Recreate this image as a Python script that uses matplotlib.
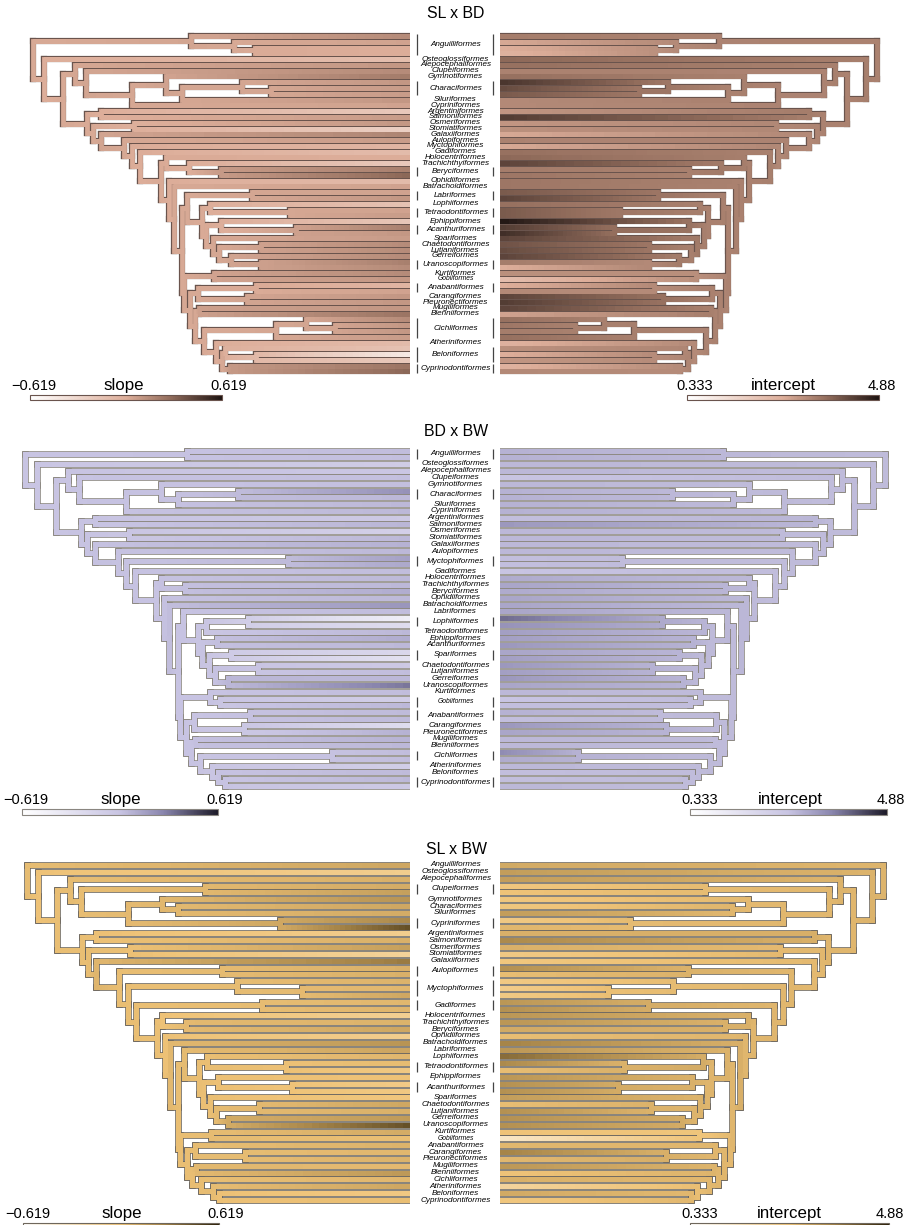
#!/usr/bin/env python3
"""Three mirrored cladograms, slope on the left and intercept on the right"""

import numpy as np
import matplotlib
matplotlib.use("Agg")
import matplotlib.pyplot as plt
from matplotlib.cm import ScalarMappable
from matplotlib.collections import LineCollection
from matplotlib.colors import LinearSegmentedColormap, Normalize

plt.rcParams["font.family"] = ["Liberation Sans", "DejaVu Sans"]

WIDTH = 911
HEIGHT = 1225

# order level tree: [node depth, child, child], depth read in pixels on the top panel
BACKBONE = [377, "Anguilliformes",
    [366, "Osteoglossiformes",
     [347,
      [335, "Alepocephaliformes",
       [324, "Clupeiformes",
        [278,
         [244, "Gymnotiformes", [228, "Characiformes", "Siluriformes"]],
         "Cypriniformes"]]],
      [323,
       [309, "Argentiniformes", "Salmoniformes"],
       [317,
        [276, "Osmeriformes", "Stomiatiformes"],
        [309, "Galaxiiformes",
         [286, "Aulopiformes",
          [278, "Myctophiformes",
           [270, "Gadiformes",
            [249,
             [244, "Holocentriformes", [221, "Trachichthyiformes", "Beryciformes"]],
             [241, "Ophidiiformes",
              [236, "Batrachoidiformes",
               [228,
                [223, "Labriformes",
                 [208,
                  [200, "Lophiiformes", "Tetraodontiformes"],
                  [204,
                   [189, "Ephippiformes", "Acanthuriformes"],
                   [197, "Spariformes",
                    [191,
                     [149, "Chaetodontiformes", "Lutjaniformes"],
                     [179, "Gerreiformes", "Uranoscopiformes"]]]]]],
                [226,
                 [196, "Kurtiformes", "Gobiiformes"],
                 [220,
                  [212, "Anabantiformes", [163, "Carangiformes", "Pleuronectiformes"]],
                  [215,
                   [211, "Mugiliformes", "Blenniiformes"],
                   [206, "Cichliformes",
                    [194, "Atheriniformes",
                     [188, "Beloniformes", "Cyprinodontiformes"]]]]]]]]]]]]]]]]]]]

# orders that keep more than one tip in a panel, 0 is a tip
CLADES_SL_BD = {
    "Anguilliformes": [219, 0, [176, 0, [155, 0, 0]]],
    "Characiformes": [168, 0, [139, 0, 0]],
    "Beryciformes": [189, 0, 0],
    "Labriformes": [158, 0, 0],
    "Tetraodontiformes": [120, 0, 0],
    "Acanthuriformes": [114, 0, 0],
    "Uranoscopiformes": [149, 0, 0],
    "Anabantiformes": [154, 0, 0],
    "Cichliformes": [134, [104, 0, [75, 0, 0]], 0],
    "Beloniformes": [185, 0, [154, 0, 0]],
    "Cyprinodontiformes": [180, 0, 0],
}
CLADES_BD_BW = {
    "Anguilliformes": [223, 0, 0],
    "Characiformes": [172, 0, 0],
    "Myctophiformes": [122, 0, 0],
    "Lophiiformes": [162, 0, 0],
    "Spariformes": [179, 0, 0],
    "Gobiiformes": [190, 0, 0],
    "Anabantiformes": [160, 0, 0],
    "Cichliformes": [78, 0, 0],
    "Cyprinodontiformes": [185, 0, 0],
}
CLADES_SL_BW = {
    "Clupeiformes": [205, 0, 0],
    "Cypriniformes": [130, 0, 0],
    "Aulopiformes": [188, 0, 0],
    "Myctophiformes": [173, 0, [108, 0, 0]],
    "Gadiformes": [148, 0, 0],
    "Tetraodontiformes": [124, 0, 0],
    "Acanthuriformes": [118, 0, 0],
}

# tip values, top to bottom
SL_BD_SLOPE = [0.15, 0.05, 0, 0, -0.12, 0.1, 0.15, 0.22, 0.1, 0.08, 0.08, 0.1, 0.05,
               -0.2, 0.08, 0.1, -0.25, 0.18, 0.08, -0.05, -0.1, 0, -0.2, 0.2, 0.3,
               -0.1, 0.05, 0.05, 0.1, -0.15, 0.05, 0.08, -0.18, 0.2, 0.1, 0.08, 0.15,
               0.15, 0.15, 0.2, 0.15, 0.15, 0.1, -0.05, 0.05, 0.1, 0.1, 0.1, 0.25,
               0.15, 0.1, 0.1, 0.08, -0.1, -0.15, -0.45, -0.2, 0.25, 0.3]
SL_BD_INTERCEPT = [3.4, 2.7, 2.6, 2.5, 3.7, 3.6, 3.3, 3.6, 4.4, 4.1, 3.9, 3.2, 3.2,
                   3.0, 4.3, 3.0, 3.1, 2.7, 3.3, 2.7, 3.6, 3.7, 4.2, 3.4, 3.5,
                   3.5, 3.5, 3.9, 4.2, 3.6, 3.9, 3.9, 4.8, 4.3, 4.5, 4.2, 4.0,
                   4.1, 4.2, 3.4, 2.6, 3.1, 2.2, 2.6, 3.2, 4.2, 4.3, 4.2, 2.8,
                   3.6, 3.5, 3.4, 3.6, 2.5, 3.1, 2.6, 3.0, 2.5, 3.2]
BD_BW_SLOPE = [0.03, 0.02, -0.08, -0.02, 0.02, 0.02, 0.22, 0.05, 0.05, 0.05, -0.05,
               0.06, -0.12, 0.05, 0.08, 0.05, 0.15, 0.12, 0.03, 0.05, 0.05, 0.1, 0.05,
               0.2, 0.03, -0.45, -0.25, 0.05, 0.1, 0.05, -0.2, -0.3, -0.05, 0.03, 0.05,
               0.32, 0.03, -0.1, 0.05, 0.04, 0.04, -0.25, 0.08, 0.07, 0.05, 0.03, 0.03,
               -0.1, 0.04, 0.05, -0.05]
BD_BW_INTERCEPT = [2.9, 2.9, 2.8, 2.8, 2.6, 2.8, 2.9, 2.9, 2.9, 2.9, 2.7, 3.3, 2.8,
                   2.8, 2.8, 2.8, 2.7, 2.7, 2.6, 3.0, 3.1, 3.0, 3.1, 3.1, 3.1, 3.9,
                   3.4, 3.2, 3.2, 3.3, 3.1, 3.2, 3.3, 3.2, 3.3, 3.1, 2.8, 2.6, 2.7,
                   2.9, 2.7, 3.3, 3.1, 2.8, 2.8, 3.5, 3.0, 2.8, 2.7, 2.7, 2.8]
SL_BW_SLOPE = [0.12, -0.1, 0.08, 0.1, 0.15, 0.2, 0.12, 0.1, 0.25, 0.45, -0.1, 0.08,
               0.15, -0.15, 0.3, 0.08, 0.08, 0.07, 0.05, 0.12, 0.05, 0.06, -0.12, 0.07,
               0.12, -0.1, 0.2, 0.13, 0.05, 0.03, -0.05, 0, -0.07, -0.05, -0.03, 0.12,
               0.08, 0.17, 0.45, 0.1, 0.02, 0.07, 0.05, 0.07, 0.04, 0.18, 0.05, 0.12,
               -0.05, 0.02]
SL_BW_INTERCEPT = [3.0, 3.2, 3.2, 2.5, 2.6, 2.5, 2.5, 3.2, 2.4, 2.8, 2.9, 3.5, 2.9,
                   2.4, 2.5, 3.4, 2.7, 2.4, 2.3, 2.4, 3.3, 3.4, 3.3, 3.3, 3.0, 2.7,
                   3.6, 3.3, 3.9, 3.5, 2.7, 3.3, 3.4, 3.4, 3.2, 2.7, 3.4, 3.4, 3.4,
                   2.6, 1.3, 2.8, 3.6, 2.8, 3.3, 2.6, 2.9, 2.0, 3.0, 2.5]

SLOPE_LIM = (-0.619, 0.619)
INTERCEPT_LIM = (0.333, 4.88)

PANELS = [
    dict(title="SL x BD", title_y=14, clades=CLADES_SL_BD, scale=1.0,
         top=36, bottom=371.5, slope=SL_BD_SLOPE, intercept=SL_BD_INTERCEPT,
         base_slope=0.02, base_intercept=3.3, fill_px=4.8, edge_px=6.2,
         mid="#DDAE9A", mid2="#96705F", dark="#1D1311", edge="#6A544D",
         text_y=386, bar_y=395, bar_l=(30, 222), bar_r=(687, 879),
         x_lo=(12, 124, 229), x_hi=(695, 783, 882)),
    dict(title="BD x BW", title_y=431, clades=CLADES_BD_BW, scale=1.021,
         top=450.5, bottom=785.7, slope=BD_BW_SLOPE, intercept=BD_BW_INTERCEPT,
         base_slope=0.0, base_intercept=2.75, fill_px=5.0, edge_px=6.6,
         mid="#C8C4E2", mid2="#8A86AE", dark="#1C1A28", edge="#8A8680",
         text_y=800, bar_y=809, bar_l=(22, 218), bar_r=(690, 887),
         x_lo=(4, 121, 225), x_hi=(700, 790, 891)),
    dict(title="SL x BW", title_y=849, clades=CLADES_SL_BW, scale=1.017,
         top=865, bottom=1200, slope=SL_BW_SLOPE, intercept=SL_BW_INTERCEPT,
         base_slope=0.02, base_intercept=2.8, fill_px=5.0, edge_px=6.6,
         mid="#EFC377", mid2="#A58448", dark="#2B2009", edge="#6E675C",
         text_y=1214, bar_y=1223, bar_l=(23, 219), bar_r=(690, 889),
         x_lo=(6, 122, 226), x_hi=(700, 789, 890)),
]

LEFT_TIP = 410.3
RIGHT_TIP = 499.8
PULL = 0.3  # how much of the tip colour reaches the inner nodes


def px_axes(fig, x0, x1, y0, y1):
    """axes placed by figure pixels, y counted from the top"""
    return fig.add_axes([x0 / WIDTH, 1 - y1 / HEIGHT, (x1 - x0) / WIDTH, (y1 - y0) / HEIGHT])


def expand(node, clades, scale):
    """swap order names for their tips, scale the backbone depths"""
    if isinstance(node, str):
        return clades.get(node, 0)
    return [node[0] * scale, expand(node[1], clades, scale), expand(node[2], clades, scale)]


def count_tips(node):
    if node == 0:
        return 1
    return count_tips(node[1]) + count_tips(node[2])


def order_names(node, names):
    """orders in the order they come down the tree"""
    for child in node[1:]:
        if isinstance(child, str):
            names.append(child)
        else:
            order_names(child, names)


def walk(node, values, base, state, verts, horiz):
    """returns depth, y and value of a node and collects its branches"""
    if node == 0:
        y = state[0]
        state[0] += 1
        return 0.0, y, values[y]
    a = walk(node[1], values, base, state, verts, horiz)
    b = walk(node[2], values, base, state, verts, horiz)
    depth = node[0]
    y = (a[1] + b[1]) / 2
    val = base + PULL * ((a[2] + b[2]) / 2 - base)
    verts.append((depth, a[1], b[1], val))
    for child in (a, b):
        horiz.append((depth, child[0], child[1], val, child[2]))
    return depth, y, val


def draw_tree(ax, tree, values, base, cmap, norm, panel):
    verts, horiz = [], []
    walk(tree, values, base, [0], verts, horiz)
    fill_w = panel["fill_px"] * 0.72
    v_segs = [[(d, y0), (d, y1)] for d, y0, y1, _ in verts]
    h_segs = [[(d0, y), (d1, y)] for d0, d1, y, _, _ in horiz]
    ax.add_collection(LineCollection(v_segs + h_segs, colors=panel["edge"],
                                     linewidths=panel["edge_px"] * 0.72,
                                     capstyle="projecting", zorder=1))
    ax.add_collection(LineCollection(v_segs, array=np.array([v[3] for v in verts]), cmap=cmap,
                                     norm=norm, linewidths=fill_w,
                                     capstyle="projecting", zorder=2))
    # each horizontal branch shades from the node value to the child value
    pieces, shades = [], []
    for d0, d1, y, v0, v1 in horiz:
        xs = np.linspace(d0, d1, 25)
        vs = np.linspace(v0, v1, 24)
        for i in range(24):
            pieces.append([(xs[i], y), (xs[i + 1], y)])
            shades.append(vs[i])
    # no antialiasing here, or the joints between pieces show as dots
    ax.add_collection(LineCollection(pieces, array=np.array(shades), cmap=cmap, norm=norm,
                                     linewidths=fill_w, capstyle="butt", zorder=3,
                                     antialiaseds=False))


def colour_bar(fig, span, y, cmap, norm, edge):
    cax = px_axes(fig, span[0], span[1], y, y + 5.5)
    bar = fig.colorbar(ScalarMappable(norm=norm, cmap=cmap), cax=cax, orientation="horizontal")
    bar.set_ticks([])
    bar.outline.set_edgecolor(edge)
    bar.outline.set_linewidth(0.8)


def put_text(fig, x, y, text, size):
    fig.text(x / WIDTH, 1 - y / HEIGHT, text, fontsize=size, ha="center", va="center")


def main():
    fig = plt.figure(figsize=(WIDTH / 100, HEIGHT / 100), dpi=100)

    for panel in PANELS:
        cmap = LinearSegmentedColormap.from_list("tree", [(0, "#FFFFFF"), (0.5, panel["mid"]),
                                                          (0.72, panel["mid2"]), (1, panel["dark"])])
        slope_norm = Normalize(*SLOPE_LIM)
        icpt_norm = Normalize(*INTERCEPT_LIM)
        tree = expand(BACKBONE, panel["clades"], panel["scale"])
        n_tips = count_tips(tree)
        step = (panel["bottom"] - panel["top"]) / (n_tips - 1)
        pad = 8
        y0, y1 = panel["top"] - pad, panel["bottom"] + pad
        ylim = (n_tips - 1 + pad / step, -pad / step)

        ax_l = px_axes(fig, 0, LEFT_TIP, y0, y1)
        ax_l.set_xlim(LEFT_TIP, 0)
        ax_r = px_axes(fig, RIGHT_TIP, WIDTH, y0, y1)
        ax_r.set_xlim(0, WIDTH - RIGHT_TIP)
        draw_tree(ax_l, tree, panel["slope"], panel["base_slope"], cmap, slope_norm, panel)
        draw_tree(ax_r, tree, panel["intercept"], panel["base_intercept"], cmap, icpt_norm, panel)
        for ax in (ax_l, ax_r):
            ax.set_ylim(*ylim)
            ax.axis("off")

        # order names and the bars of orders with several tips
        ax_m = px_axes(fig, LEFT_TIP, RIGHT_TIP, y0, y1)
        ax_m.set_xlim(LEFT_TIP, RIGHT_TIP)
        ax_m.set_ylim(*ylim)
        ax_m.axis("off")
        names = []
        order_names(BACKBONE, names)
        tip = 0
        for name in names:
            n = count_tips(panel["clades"].get(name, 0))
            mid_y = tip + (n - 1) / 2
            # Gobiiformes is squeezed and smeared in the figure
            size = 4.9 if name == "Gobiiformes" else 5.9
            ax_m.text(455.5, mid_y, name, fontsize=size, style="italic", ha="center", va="center",
                      color="black")
            if n > 1:
                ext = 1.6 / step
                for x in (417, 492.5):
                    ax_m.plot([x, x], [tip - ext, tip + n - 1 + ext], color="#444444", lw=0.9,
                              solid_capstyle="butt")
            tip += n

        put_text(fig, 456, panel["title_y"], panel["title"], 11.4)
        colour_bar(fig, panel["bar_l"], panel["bar_y"], cmap, slope_norm, panel["edge"])
        colour_bar(fig, panel["bar_r"], panel["bar_y"], cmap, icpt_norm, panel["edge"])
        tx = panel["text_y"]
        lo = panel["x_lo"]
        hi = panel["x_hi"]
        put_text(fig, lo[0] + 22, tx, "\u22120.619", 10.5)
        put_text(fig, lo[1], tx - 0.5, "slope", 12.2)
        put_text(fig, lo[2], tx, "0.619", 10.5)
        put_text(fig, hi[0], tx, "0.333", 10.5)
        put_text(fig, hi[1], tx - 0.5, "intercept", 12.2)
        put_text(fig, hi[2], tx, "4.88", 10.5)

    fig.savefig("out.png", dpi=100, facecolor="white")


if __name__ == "__main__":
    main()
